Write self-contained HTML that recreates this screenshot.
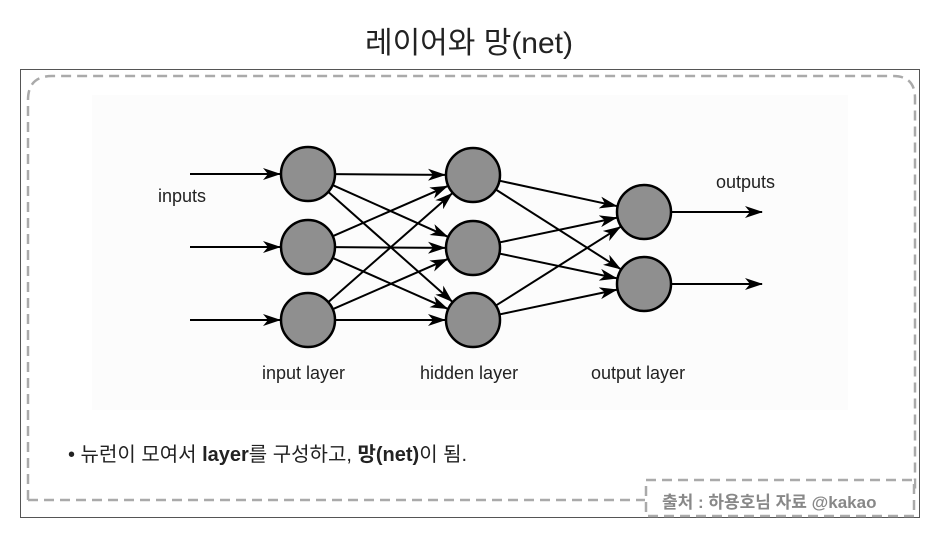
<!DOCTYPE html>
<html><head><meta charset="utf-8"><style>
body{margin:0;width:938px;height:545px;background:#fff;position:relative;overflow:hidden;font-family:"Liberation Sans","Noto Sans CJK KR",sans-serif}
.t{position:absolute;white-space:nowrap}
</style></head><body>
<div class="t" style="left:0;width:938px;text-align:center;top:18px;font-size:30px;color:#222">레이어와 망(net)</div>
<div style="position:absolute;left:20px;top:69px;width:900px;height:449px;border:1px solid #555;box-sizing:border-box"></div>
<div style="position:absolute;left:92px;top:95px;width:756px;height:315px;background:#fcfcfc"></div>
<svg style="position:absolute;left:0;top:0" width="938" height="545" id="s">
<defs><marker id="a" markerWidth="18" markerHeight="12" refX="17" refY="6" orient="auto" markerUnits="userSpaceOnUse"><path d="M0,0 L18,6 L0,12 L5,6 Z" fill="#000"/></marker></defs>
<path d="M28,500 L28,100 Q28,76 52,76 L893,76 Q915,76 915,98 L915,490 L893,490" fill="none" stroke="#aaa" stroke-width="2.5" stroke-dasharray="10,6"/>
<path d="M28,500 L645,500" fill="none" stroke="#aaa" stroke-width="2.5" stroke-dasharray="10,6"/>
<rect x="646" y="480" width="268" height="36" fill="#fff" stroke="#aaa" stroke-width="2.5" stroke-dasharray="10,6"/>
<g id="g" stroke="#000" stroke-width="2"></g>
</svg>
<script>
var I=[[308,174],[308,247],[308,320]],H=[[473,175],[473,248],[473,320]],O=[[644,212],[644,284]],r=27;
var g=document.getElementById('g'),ns='http://www.w3.org/2000/svg';
function ln(x1,y1,x2,y2){var l=document.createElementNS(ns,'line');l.setAttribute('x1',x1);l.setAttribute('y1',y1);l.setAttribute('x2',x2);l.setAttribute('y2',y2);l.setAttribute('marker-end','url(#a)');g.appendChild(l);}
function con(a,b){var dx=b[0]-a[0],dy=b[1]-a[1],d=Math.hypot(dx,dy);ln(a[0]+dx/d*r,a[1]+dy/d*r,b[0]-dx/d*(r+1),b[1]-dy/d*(r+1));}
I.forEach(function(p){ln(190,p[1],p[0]-r-1,p[1]);});
I.forEach(function(a){H.forEach(function(b){con(a,b);});});
H.forEach(function(a){O.forEach(function(b){con(a,b);});});
O.forEach(function(p){ln(p[0]+r,p[1],762,p[1]);});
I.concat(H,O).forEach(function(p){var c=document.createElementNS(ns,'circle');c.setAttribute('cx',p[0]);c.setAttribute('cy',p[1]);c.setAttribute('r',r);c.setAttribute('fill','#8f8f8f');c.setAttribute('stroke','#000');c.setAttribute('stroke-width','2.5');g.appendChild(c);});
</script>
<div class="t" style="left:158px;top:186px;font-size:18px;color:#222">inputs</div>
<div class="t" style="left:716px;top:172px;font-size:18px;color:#222">outputs</div>
<div class="t" style="left:262px;top:363px;font-size:18px;color:#222">input layer</div>
<div class="t" style="left:420px;top:363px;font-size:18px;color:#222">hidden layer</div>
<div class="t" style="left:591px;top:363px;font-size:18px;color:#222">output layer</div>
<div class="t" style="left:68px;top:438px;font-size:20px;color:#222">• 뉴런이 모여서 <b>layer</b>를 구성하고, <b>망(net)</b>이 됨.</div>
<div class="t" style="left:662px;top:488px;font-size:17px;color:#888;font-weight:bold">출처 : 하용호님 자료 @kakao</div>
</body></html>
